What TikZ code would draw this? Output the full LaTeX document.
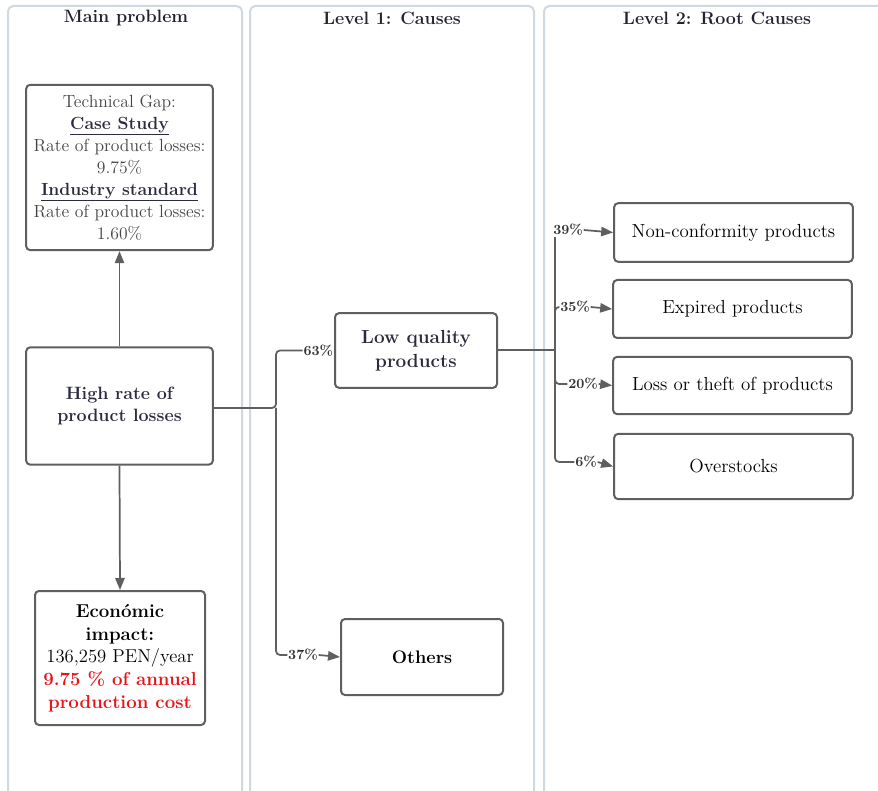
\documentclass[tikz,border=0pt]{standalone}
\usepackage{tikz}
\usetikzlibrary{arrows.meta,positioning}
\definecolor{panelline}{HTML}{D0D8E2}
\definecolor{boxline}{HTML}{5F5F5F}
\definecolor{navy}{HTML}{2B2B3F}
\definecolor{gaptext}{HTML}{444444}
\definecolor{alarm}{HTML}{E8141A}
\tikzset{
  panel/.style={draw=panelline, line width=1.5pt, rounded corners=4pt},
  paneltitle/.style={font=\bfseries\fontsize{13.4}{15}\selectfont, text=navy!80!black},
  box/.style={draw=boxline, line width=1.5pt, rounded corners=3pt, fill=white,
    align=center, inner sep=2pt, font=\fontsize{14.2}{18}\selectfont},
  link/.style={draw=boxline, line width=1.3pt, rounded corners=3pt},
  tip/.style={link, -{Triangle[length=9pt,width=7pt]}},
  pct/.style={font=\bfseries\fontsize{10.5}{11}\selectfont, text=black!80, inner sep=0.5pt}
}
\begin{document}
\begin{tikzpicture}[x=0.75pt,y=-0.75pt]
\useasboundingbox (0,0) rectangle (878,791);
% columns
\draw[panel] (8,6) rectangle (242,805);
\draw[panel] (250,6) rectangle (534,805);
\draw[panel] (544,6) rectangle (890,805);
\node[paneltitle] (t1) at (126,18) {Main problem};
\node[paneltitle] (t2) at (392,18) {Level 1: Causes};
\node[paneltitle] (t3) at (717,18) {Level 2: Root Causes};

% main problem
\node[box, minimum width=140pt, minimum height=124pt, text=gaptext, font=\fontsize{13.2}{16.5}\selectfont] (gap) at (119.5,167.5)
  {Technical Gap:\\ \textcolor{navy}{\textbf{\underline{Case Study}}}\\ Rate of product losses:\\ 9.75\%\\
   \textcolor{navy}{\textbf{\underline{Industry standard}}}\\ Rate of product losses:\\ 1.60\%};
\node[box, minimum width=140pt, minimum height=88pt, text=navy, font=\bfseries\fontsize{13.4}{17}\selectfont] (high) at (119.5,406)
  {High rate of\\ product losses};
\node[box, minimum width=127.5pt, minimum height=100.5pt, font=\fontsize{14}{17}\selectfont] (cost) at (120,658)
  {\textbf{Económic}\\ \textbf{impact:}\\ 136,259 PEN/year\\
   \textcolor{alarm}{\textbf{9.75 \% of annual}}\\ \textcolor{alarm}{\textbf{production cost}}};
\draw[tip] (high.north) -- (gap.south);
\draw[tip] (high.south) -- (cost.north);

% level 1
\node[box, minimum width=121.5pt, minimum height=56pt, text=navy, font=\bfseries\fontsize{14.2}{18}\selectfont] (lowq) at (416,350.5)
  {Low quality\\ products};
\node[box, minimum width=121.5pt, minimum height=57pt, font=\bfseries\fontsize{13.6}{17}\selectfont] (others) at (422,657) {Others};
\node[pct, left=0pt of lowq.west] (p63) {63\%};
\node[pct] (p37) at (303,655) {37\%};
\coordinate (j1) at (276,408);
\draw[link] (high.east |- j1) -- (j1) |- (p63.west);
\draw[link] (j1) |- (p37.west);
\draw[tip] (p37.east) -- (others.west);

% level 2
\node[box, minimum width=179pt, minimum height=44pt] (nonconf) at (733.5,232.5) {Non-conformity products};
\node[box, minimum width=179pt, minimum height=43.5pt] (expired) at (732.5,309) {Expired products};
\node[box, minimum width=179pt, minimum height=43pt] (theft) at (732.5,385.5) {Loss or theft of products};
\node[box, minimum width=179pt, minimum height=49pt] (over) at (733.5,466.5) {Overstocks};
\node[pct] (p39) at (568,230) {39\%};
\node[pct] (p35) at (575,307) {35\%};
\node[pct] (p20) at (583,384) {20\%};
\node[pct] (p6) at (586,462) {6\%};
\coordinate (j2) at (555,350);
\draw[link] (lowq.east |- j2) -- (j2);
\draw[link] (j2) -- (j2 |- p39.south);
\draw[link] (j2) |- (p35.west);
\draw[link] (j2) |- (p20.west);
\draw[link] (j2) |- (p6.west);
\draw[tip] (p39.east) -- (nonconf.west);
\draw[tip] (p35.east) -- (expired.west);
\draw[tip] (p20.east) -- (theft.west);
\draw[tip] (p6.east) -- (over.west);
\end{tikzpicture}
\end{document}
